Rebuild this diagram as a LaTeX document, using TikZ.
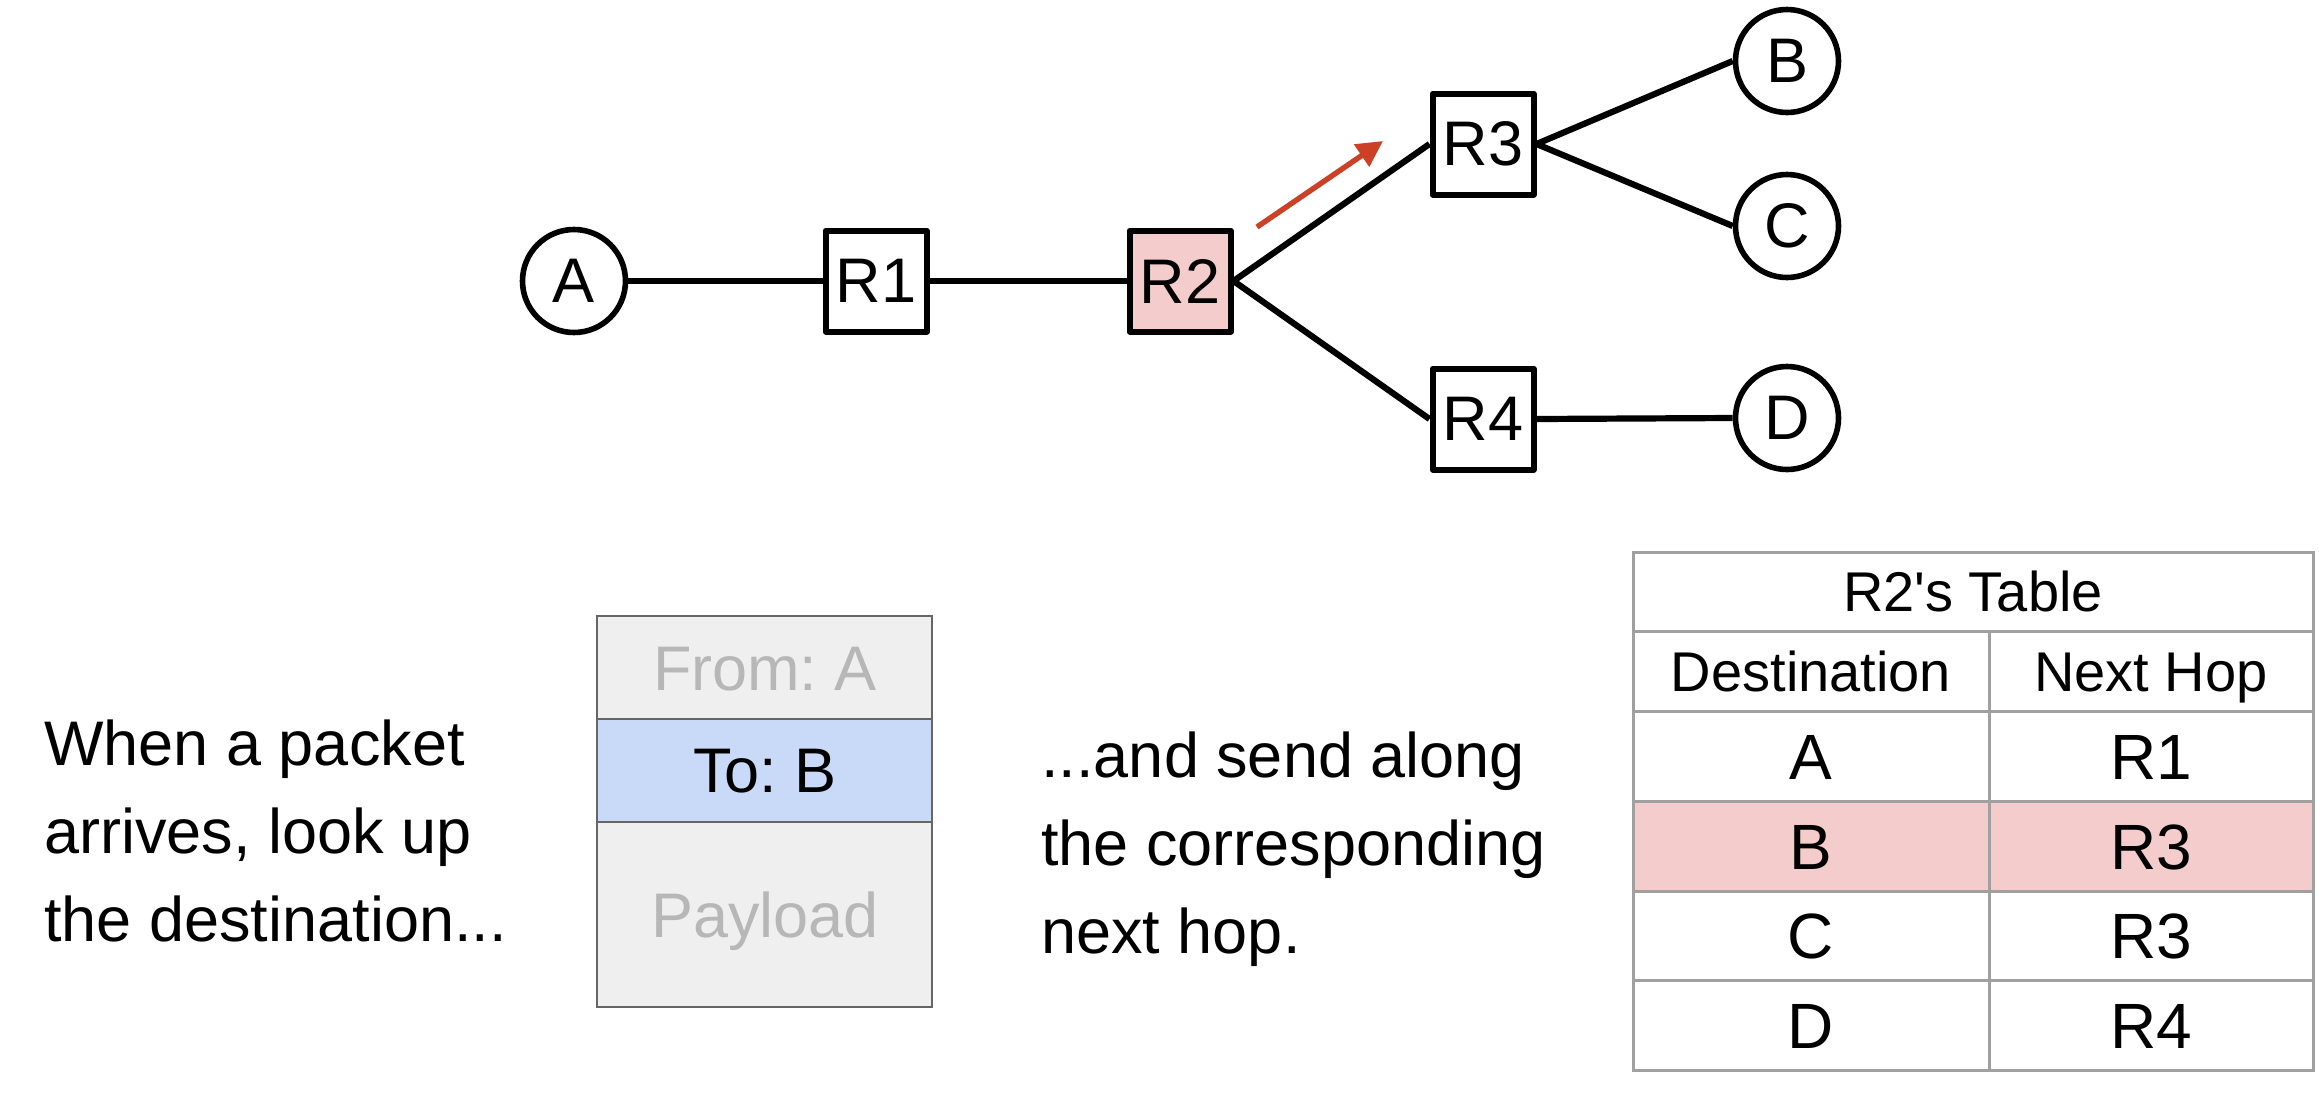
\documentclass[tikz,border=0pt]{standalone}
\usepackage{fontspec}
\setmainfont{Liberation Sans}[Ligatures=TeXOff]
\usetikzlibrary{arrows.meta}
\definecolor{pinkfill}{HTML}{F4CCCC}
\definecolor{bluefill}{HTML}{C9DAF8}
\definecolor{pktfill}{HTML}{EFEFEF}
\definecolor{pktline}{HTML}{666666}
\definecolor{pkttext}{HTML}{B7B7B7}
\definecolor{tabline}{HTML}{A0A0A0}
\definecolor{arrred}{HTML}{CC4125}
\begin{document}
\begin{tikzpicture}[x=0.5pt,y=-0.5pt,
  every node/.style={font=\fontsize{31.5}{44}\selectfont\frenchspacing, inner sep=0pt},
  host/.style={circle, draw=black, line width=2.8pt, minimum size=51.5pt, fill=white},
  router/.style={rectangle, draw=black, line width=3pt, minimum size=50.5pt, fill=white, line join=round},
  link/.style={line width=3.1pt, black},
  redarrow/.style={line width=2.7pt, arrred, -{Triangle[length=13pt,width=13pt]}},
  pktcell/.style={draw=pktline, line width=1.4pt},
  tabcell/.style={draw=tabline, line width=1.5pt},
  txt/.style={anchor=base west},
  ctxt/.style={anchor=base},
  rowtxt/.style={anchor=base, font=\fontsize{32}{44}\selectfont},
  hdtxt/.style={anchor=base, font=\fontsize{28}{38}\selectfont}
]
\useasboundingbox (0,0) rectangle (2319,1104);
% ---- graph ----
\node[host] (A) at (574,281) {A};
\node[router] (R1) at (876,281) {R1};
\node[router, fill=pinkfill] (R2) at (1180,281) {R2};
\node[router] (R3) at (1483,144) {R3};
\node[router] (R4) at (1483,419) {R4};
\node[host] (B) at (1787,61) {B};
\node[host] (C) at (1787,226) {C};
\node[host] (D) at (1787,418) {D};
\draw[link] (A.east) -- (R1.west);
\draw[link] (R1.east) -- (R2.west);
\draw[link] (R2.east) -- (R3.west);
\draw[link] (R2.east) -- (R4.west);
\draw[link] (R3.east) -- (B.west);
\draw[link] (R3.east) -- (C.west);
\draw[link] (R4.east) -- (D.west);
\coordinate (arrT) at (1257,227);
\coordinate (arrH) at (1383,141);
\draw[redarrow] (arrT) -- (arrH);
% ---- left text ----
\node[txt] (l1) at (44,765) {When a packet};
\node[txt] (l2) at (44,853) {arrives, look up};
\node[txt] (l3) at (44,941) {the destination...};
% ---- packet ----
\fill[pktfill] (597,616) rectangle (932,1007);
\fill[bluefill] (597,719) rectangle (932,822);
\draw[pktcell] (597,616) rectangle (932,1007);
\draw[pktcell] (597,719) -- (932,719);
\draw[pktcell] (597,822) -- (932,822);
\node[ctxt, text=pkttext] (from) at (765,690) {From: A};
\node[ctxt] (to) at (765,792) {To: B};
\node[ctxt, text=pkttext] (payload) at (765,937) {Payload};
% ---- right text ----
\node[txt] (r1) at (1041,777) {...and send along};
\node[txt] (r2) at (1041,865) {the corresponding};
\node[txt] (r3) at (1041,953) {next hop.};
% ---- table ----
\fill[pinkfill] (1633,801) rectangle (2313,891);
\draw[tabcell] (1633,552) rectangle (2313,1070);
\foreach \yy in {631,711,801,891,980} \draw[tabcell] (1633,\yy) -- (2313,\yy);
\draw[tabcell] (1989,631) -- (1989,1070);
\node[hdtxt] (title) at (1973,611) {R2's Table};
\node[hdtxt] (hdest) at (1811,691) {Destination};
\node[hdtxt] (hhop) at (2151,691) {Next Hop};
\node[rowtxt] (dA) at (1811,779) {A};
\node[rowtxt] (hA) at (2151,779) {R1};
\node[rowtxt] (dB) at (1811,869) {B};
\node[rowtxt] (hB) at (2151,869) {R3};
\node[rowtxt] (dC) at (1811,958) {C};
\node[rowtxt] (hC) at (2151,958) {R3};
\node[rowtxt] (dD) at (1811,1048) {D};
\node[rowtxt] (hD) at (2151,1048) {R4};
\end{tikzpicture}
\end{document}
